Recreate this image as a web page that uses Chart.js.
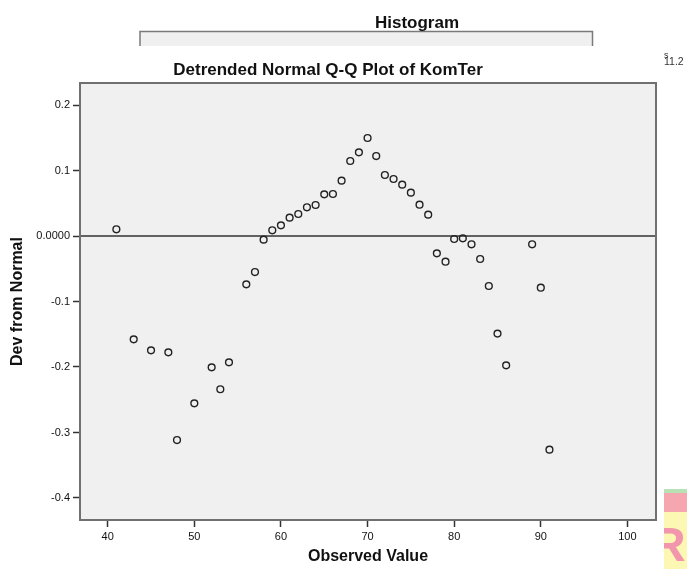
<!DOCTYPE html>
<html><head><meta charset="utf-8">
<script src="https://cdn.jsdelivr.net/npm/chart.js@4.4.1/dist/chart.umd.min.js"></script>
<style>html,body{margin:0;padding:0;background:#fff;}canvas{display:block}</style>
</head><body>
<canvas id="c" width="687" height="569"></canvas>
<script>
// ---- data ----
const observedValues = [41,43,45,47,48,50,52,53,54,56,57,58,59,60,61,62,63,64,65,66,67,68,69,70,71,72,73,74,75,76,77,78,79,80,81,82,83,84,85,86,89,90,91];
const devFromNormal = [0.0102,-0.1578,-0.1746,-0.1776,-0.3115,-0.2555,-0.2005,-0.234,-0.1929,-0.0738,-0.055,-0.0056,0.0087,0.0163,0.028,0.0336,
  0.0438,0.0473,0.0636,0.0641,0.0845,0.1145,0.1277,0.1496,0.1221,0.0931,0.087,0.0784,0.0662,0.0478,0.0326,
  -0.0265,-0.0392,-0.0046,-0.0036,-0.0127,-0.0351,-0.0763,-0.149,-0.1975,-0.0127,-0.0789,-0.3262];
const xTicks = [40,50,60,70,80,90,100];
const yTicks = [0.2,0.1,0,-0.1,-0.2,-0.3,-0.4];
const yTickLabels = ['0.2','0.1','0.0000','-0.1','-0.2','-0.3','-0.4'];
const chartTitle = 'Detrended Normal Q-Q Plot of KomTer';
const upperTitle = 'Histogram';
const xTitle = 'Observed Value';
const yTitle = 'Dev from Normal';

const FAM = '"Liberation Sans", Arial, Helvetica, sans-serif';

const decor = {
  id: 'decor',
  beforeDraw(chart) {
    const {ctx, chartArea: a} = chart;
    ctx.save();
    ctx.fillStyle = '#ffffff';
    ctx.fillRect(0, 0, chart.width, chart.height);
    ctx.fillStyle = '#f0f0f0';
    ctx.fillRect(a.left, a.top, a.right - a.left, a.bottom - a.top);
    // upper (cut-off) histogram panel
    ctx.fillStyle = '#f0f0f0';
    ctx.fillRect(140, 31, 453, 15);
    ctx.strokeStyle = '#7a7a7a';
    ctx.lineWidth = 1.5;
    ctx.beginPath();
    ctx.moveTo(140, 46); ctx.lineTo(140, 31.5); ctx.lineTo(592.5, 31.5); ctx.lineTo(592.5, 46);
    ctx.stroke();
    // titles
    ctx.fillStyle = '#111';
    ctx.textAlign = 'center';
    ctx.textBaseline = 'alphabetic';
    ctx.font = 'bold 17px ' + FAM;
    ctx.fillText(upperTitle, 417, 28);
    ctx.fillText(chartTitle, 328, 75);
    // fragment at top right
    ctx.textAlign = 'left';
    ctx.font = '10.5px ' + FAM;
    ctx.fillStyle = '#333';
    ctx.fillText('11.2', 664, 65);
    ctx.save();
    ctx.beginPath(); ctx.rect(660, 53, 20, 6); ctx.clip();
    ctx.font = '9px ' + FAM;
    ctx.fillText('s', 664, 57.5);
    ctx.restore();
    // watermark fragment at bottom right
    ctx.save();
    ctx.beginPath(); ctx.rect(664, 489, 23, 80); ctx.clip();
    ctx.fillStyle = '#b8e2b4'; ctx.fillRect(664, 489, 23, 4);
    ctx.fillStyle = '#f5a6ae'; ctx.fillRect(664, 493, 23, 19);
    ctx.fillStyle = '#fdf7b4'; ctx.fillRect(664, 512, 23, 57);
    ctx.fillStyle = '#f296ae';
    ctx.font = 'bold 48px ' + FAM;
    ctx.fillText('R', 651, 561);
    ctx.restore();
    ctx.restore();
  },
  beforeDatasetsDraw(chart) {
    const {ctx, chartArea: a, scales} = chart;
    const y0 = scales.y.getPixelForValue(0);
    ctx.save();
    ctx.strokeStyle = '#333';
    ctx.lineWidth = 1.5;
    ctx.beginPath();
    ctx.moveTo(a.left, y0); ctx.lineTo(a.right, y0);
    ctx.stroke();
    ctx.restore();
  },
  afterDraw(chart) {
    const {ctx, chartArea: a} = chart;
    ctx.save();
    ctx.strokeStyle = '#707070';
    ctx.lineWidth = 2;
    ctx.strokeRect(a.left, a.top, a.right - a.left, a.bottom - a.top);
    ctx.restore();
  }
};

new Chart(document.getElementById('c'), {
  type: 'scatter',
  data: {
    datasets: [{
      data: observedValues.map((x, i) => ({x, y: devFromNormal[i]})),
      pointStyle: 'circle',
      pointRadius: 3.4,
      pointBorderWidth: 1.4,
      borderColor: '#222',
      backgroundColor: 'rgba(0,0,0,0)',
      pointHoverRadius: 3.4
    }]
  },
  options: {
    responsive: false,
    animation: false,
    devicePixelRatio: 1,
    layout: {padding: {top: 83, right: 31, left: 0, bottom: 0}},
    plugins: {legend: {display: false}, tooltip: {enabled: false}, title: {display: false}},
    scales: {
      x: {
        type: 'linear', min: 36.8, max: 103.3,
        afterBuildTicks: s => { s.ticks = xTicks.map(v => ({value: v})); },
        afterFit: s => { s.height = 49; },
        grid: {display: true, drawOnChartArea: false, drawTicks: true, tickLength: 7, tickWidth: 1.5, tickColor: '#333'},
        border: {display: false},
        ticks: {font: {size: 11, family: FAM}, color: '#111', padding: 3, maxRotation: 0, autoSkip: false},
        title: {display: true, text: xTitle, color: '#111', font: {size: 16, weight: 'bold', family: FAM, lineHeight: 1.2}, padding: {top: 0, bottom: 3}}
      },
      y: {
        type: 'linear', min: -0.4336, max: 0.2336,
        afterBuildTicks: s => { s.ticks = yTicks.map(v => ({value: v})); },
        afterFit: s => { s.width = 80; },
        grid: {display: true, drawOnChartArea: false, drawTicks: true, tickLength: 7, tickWidth: 1.5, tickColor: '#333'},
        border: {display: false},
        ticks: {font: {size: 11, family: FAM}, color: '#111', padding: 3, autoSkip: false,
          callback: v => yTickLabels[yTicks.indexOf(v)]},
        title: {display: true, text: yTitle, color: '#111', font: {size: 16, weight: 'bold', family: FAM, lineHeight: 1.2}, padding: {top: 8, bottom: 0}}
      }
    }
  },
  plugins: [decor]
});
</script>
</body></html>
